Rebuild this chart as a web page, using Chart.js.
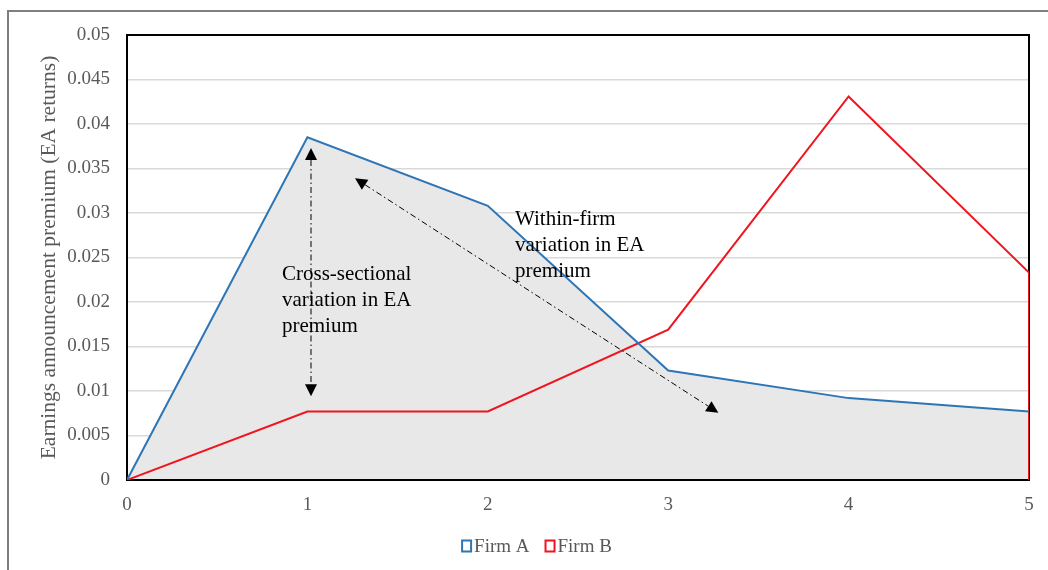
<!DOCTYPE html>
<html><head><meta charset="utf-8">
<script src="https://cdn.jsdelivr.net/npm/chart.js@4"></script>
<style>
html,body{margin:0;padding:0;background:#fff;}
#wrap{position:relative;width:1048px;height:570px;overflow:hidden;}
#frame{position:absolute;left:7px;top:10px;width:1100px;height:600px;border:2px solid #7f7f7f;box-sizing:border-box;}
canvas{position:absolute;left:0;top:0;}
</style></head><body>
<div id="wrap"><div id="frame"></div><canvas id="c" width="1048" height="570"></canvas></div>
<script>
// ---- data ----
const periods = [0, 1, 2, 3, 4, 5];
const firmA = [0, 0.0385, 0.0308, 0.0123, 0.0092, 0.0077];
const periodsB = [0, 1, 2, 3, 4, 5, 5];
const firmB = [0, 0.0077, 0.0077, 0.0169, 0.0431, 0.0233, 0];
const seriesNames = ['Firm A', 'Firm B'];
const xTickLabels = ['0', '1', '2', '3', '4', '5'];
const yTickLabels = ['0', '0.005', '0.01', '0.015', '0.02', '0.025', '0.03', '0.035', '0.04', '0.045', '0.05'];
const yTitle = 'Earnings announcement premium (EA returns)';
// annotation anchors in data units
const arrowFromX = [1.02, 1.264];
const arrowFromY = [0.0373, 0.0339];
const arrowToX = [1.02, 3.278];
const arrowToY = [0.0094, 0.00756];
const noteX = [0.859, 2.151];
const noteY = [0.0231, 0.0293];
const noteLines = [
  ['Cross-sectional', 'variation in EA', 'premium'],
  ['Within-firm', 'variation in EA', 'premium']
];

const SERIF = '"Liberation Serif", "Times New Roman", serif';
Chart.defaults.font.family = SERIF;

function head(ctx, tx, ty, fx, fy, len, hw) {
  const a = Math.atan2(ty - fy, tx - fx);
  const bx = tx - len * Math.cos(a), by = ty - len * Math.sin(a);
  const px = -Math.sin(a) * hw, py = Math.cos(a) * hw;
  ctx.beginPath();
  ctx.moveTo(tx, ty);
  ctx.lineTo(bx + px, by + py);
  ctx.lineTo(bx - px, by - py);
  ctx.closePath();
  ctx.fill();
}

const annot = {
  id: 'annot',
  beforeDatasetsDraw(chart) {
    const {ctx, chartArea: a} = chart;
    ctx.save();
    ctx.strokeStyle = '#000';
    ctx.lineWidth = 2;
    ctx.strokeRect(a.left, a.top, a.right - a.left, a.bottom - a.top);
    ctx.restore();
  },
  afterDatasetsDraw(chart) {
    const {ctx} = chart;
    const xs = chart.scales.x, ys = chart.scales.y;
    ctx.save();
    ctx.strokeStyle = '#000';
    ctx.fillStyle = '#000';
    ctx.lineWidth = 1;
    for (let i = 0; i < arrowFromX.length; i++) {
      const fx = xs.getPixelForValue(arrowFromX[i]), fy = ys.getPixelForValue(arrowFromY[i]);
      const tx = xs.getPixelForValue(arrowToX[i]), ty = ys.getPixelForValue(arrowToY[i]);
      const L = 12, a = Math.atan2(ty - fy, tx - fx);
      ctx.setLineDash([6, 3, 1.5, 3]);
      ctx.beginPath();
      ctx.moveTo(fx + L * Math.cos(a), fy + L * Math.sin(a));
      ctx.lineTo(tx - L * Math.cos(a), ty - L * Math.sin(a));
      ctx.stroke();
      ctx.setLineDash([]);
      head(ctx, fx, fy, tx, ty, L, 6);
      head(ctx, tx, ty, fx, fy, L, 6);
    }
    ctx.font = '21px ' + SERIF;
    ctx.textBaseline = 'middle';
    ctx.textAlign = 'left';
    for (let i = 0; i < noteX.length; i++) {
      const x = xs.getPixelForValue(noteX[i]), y = ys.getPixelForValue(noteY[i]);
      noteLines[i].forEach((t, j) => ctx.fillText(t, x, y + j * 26));
    }
    ctx.restore();
  },
  afterDraw(chart) {
    // legend: outlined colour box followed closely by the series name
    const {ctx} = chart;
    const box = 11, gapText = 2, gapItem = 15;
    ctx.save();
    ctx.font = '19px ' + SERIF;
    ctx.textBaseline = 'middle';
    ctx.textAlign = 'left';
    const ds = chart.data.datasets;
    const widths = ds.map(d => box + gapText + ctx.measureText(d.label).width);
    const total = widths.reduce((s, w) => s + w, 0) + gapItem * (ds.length - 1);
    const cx = (chart.width + 25) / 2;
    const cy = 546;
    let x = cx - total / 2;
    ds.forEach((d, i) => {
      ctx.strokeStyle = d.borderColor;
      ctx.lineWidth = 2;
      ctx.fillStyle = '#fff';
      ctx.fillRect(x + 1, cy - box / 2, box - 2, box);
      ctx.strokeRect(x + 1, cy - box / 2, box - 2, box);
      ctx.fillStyle = '#595959';
      ctx.fillText(d.label, x + box + gapText, cy + 1);
      x += widths[i] + gapItem;
    });
    ctx.restore();
  }
};

new Chart(document.getElementById('c'), {
  type: 'line',
  data: {
    datasets: [
      {
        label: seriesNames[0],
        data: periods.map((x, i) => ({x, y: firmA[i]})),
        borderColor: '#2e75b6',
        backgroundColor: '#e8e8e8',
        borderWidth: 2,
        fill: 'origin',
        pointRadius: 0,
        tension: 0
      },
      {
        label: seriesNames[1],
        data: periodsB.map((x, i) => ({x, y: firmB[i]})),
        borderColor: '#f0141e',
        backgroundColor: '#f0141e',
        borderWidth: 2,
        fill: false,
        pointRadius: 0,
        tension: 0
      }
    ]
  },
  options: {
    responsive: false,
    animation: false,
    devicePixelRatio: 1,
    layout: {padding: {left: 0, right: 19, top: 35, bottom: 0}},
    plugins: {
      filler: {drawTime: 'beforeDatasetsDraw'},
      tooltip: {enabled: false},
      legend: {display: false}
    },
    scales: {
      x: {
        type: 'linear',
        min: 0, max: 5,
        afterBuildTicks(s) { s.ticks = periods.map(v => ({value: v})); },
        afterFit(s) { s.height = 90; },
        grid: {display: false, drawTicks: false},
        border: {display: false},
        ticks: {
          font: {size: 19, family: SERIF},
          color: '#595959',
          padding: 14,
          maxRotation: 0,
          callback: (v, i) => xTickLabels[i]
        }
      },
      y: {
        min: 0, max: 0.05,
        afterBuildTicks(s) { s.ticks = yTickLabels.map(t => ({value: Number(t)})); },
        afterFit(s) { s.width = 127; },
        grid: {color: '#d9d9d9', lineWidth: 1.5, drawTicks: false},
        border: {display: false},
        ticks: {
          font: {size: 19, family: SERIF},
          color: '#595959',
          padding: 17,
          callback: (v, i) => yTickLabels[i]
        },
        title: {
          display: true,
          text: yTitle,
          font: {size: 21.5, family: SERIF},
          color: '#595959',
          padding: {top: 36, bottom: 0}
        }
      }
    }
  },
  plugins: [annot]
});
</script>
</body></html>
